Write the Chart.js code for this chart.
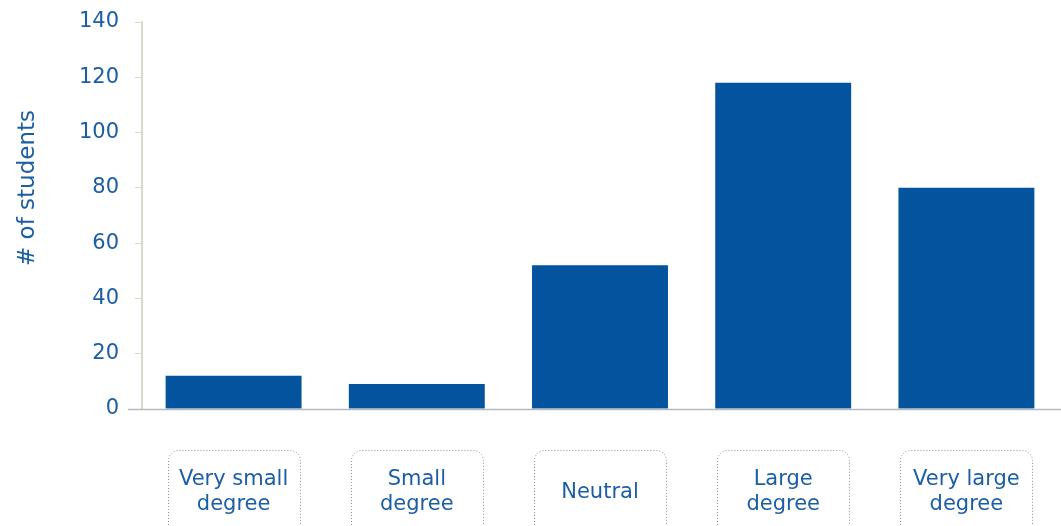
<!DOCTYPE html>
<html>
<head>
<meta charset="utf-8">
<script src="https://cdn.jsdelivr.net/npm/chart.js@4"></script>
<style>
html,body{margin:0;padding:0;background:#fff;}
#wrap{width:1061px;height:526px;}
</style>
</head>
<body>
<div id="wrap"><canvas id="c" width="1061" height="526"></canvas></div>
<script>
const categories = [["Very small","degree"],["Small","degree"],["Neutral"],["Large","degree"],["Very large","degree"]];
const students = [12, 9, 52, 118, 80];
const yTicks = [0, 20, 40, 60, 80, 100, 120, 140];
const yTitle = "# of students";

const BLUE = '#03539f';
const TEXT = '#1b5ea6';
const FONT = "'DejaVu Sans', sans-serif";

const labelBoxes = {
  id: 'labelBoxes',
  afterDraw(chart) {
    const ctx = chart.ctx;
    const xs = chart.scales.x;
    ctx.save();
    ctx.strokeStyle = '#8f8f8f';
    ctx.lineWidth = 1;
    ctx.setLineDash([1, 2]);
    xs.ticks.forEach((t, i) => {
      const cx = xs.getPixelForTick(i);
      const w = 132, top = 450.5, r = 10;
      const l = Math.round(cx - w / 2) + 0.5, rr = l + w;
      ctx.beginPath();
      ctx.moveTo(l, 540);
      ctx.lineTo(l, top + r);
      ctx.arcTo(l, top, l + r, top, r);
      ctx.lineTo(rr - r, top);
      ctx.arcTo(rr, top, rr, top + r, r);
      ctx.lineTo(rr, 540);
      ctx.stroke();
    });
    ctx.restore();
    // y-axis title
    ctx.save();
    ctx.fillStyle = TEXT;
    ctx.font = "23px " + FONT;
    ctx.textAlign = 'center';
    ctx.textBaseline = 'middle';
    ctx.translate(28, 188);
    ctx.rotate(-Math.PI / 2);
    ctx.fillText(yTitle, 0, 0);
    ctx.restore();
    // zero line extension
    const ys = chart.scales.y;
    const y0 = Math.round(ys.getPixelForValue(0)) + 0.5;
    ctx.save();
    ctx.strokeStyle = '#b3b9bf';
    ctx.lineWidth = 1.5;
    ctx.beginPath();
    ctx.moveTo(128, y0);
    ctx.lineTo(chart.width, y0);
    ctx.stroke();
    ctx.restore();
  }
};

new Chart(document.getElementById('c'), {
  type: 'bar',
  data: {
    labels: categories,
    datasets: [{
      data: students,
      backgroundColor: BLUE,
      borderWidth: 0,
      categoryPercentage: 0.742,
      barPercentage: 1.0
    }]
  },
  options: {
    responsive: false,
    animation: false,
    devicePixelRatio: 1,
    layout: { padding: { top: 22, right: 3, left: 0, bottom: 0 } },
    plugins: { legend: { display: false }, tooltip: { enabled: false } },
    scales: {
      x: {
        offset: true,
        grid: { display: false },
        border: { display: false },
        ticks: {
          color: TEXT,
          font: { family: FONT, size: 21, lineHeight: 1.15 },
          padding: 63,
          maxRotation: 0,
          autoSkip: false,
          crossAlign: 'center'
        },
        afterFit(s) { s.height = 117; s.paddingLeft = 0; s.paddingRight = 0; }
      },
      y: {
        min: 0,
        max: 140,
        afterBuildTicks(s) { s.ticks = yTicks.map(v => ({ value: v })); },
        grid: {
          drawOnChartArea: false,
          drawTicks: true,
          tickLength: 7,
          tickColor: '#dcd9cc',
          color: '#dcd9cc'
        },
        border: { display: true, color: '#dcd9cc', width: 2 },
        ticks: {
          color: TEXT,
          font: { family: FONT, size: 21 },
          padding: 16
        },
        afterFit(s) { s.width = 142; s.paddingTop = 0; s.paddingBottom = 0; }
      }
    }
  },
  plugins: [labelBoxes]
});
</script>
</body>
</html>
